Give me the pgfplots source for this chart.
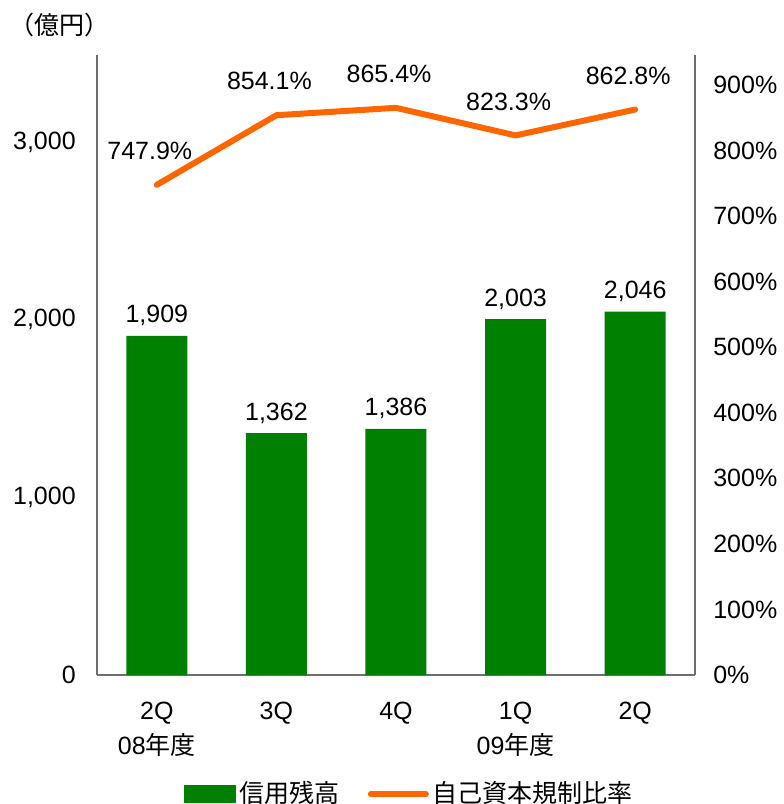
\documentclass[border=0pt]{standalone}
\usepackage{fontspec}
\setmainfont{Liberation Sans}
\newfontfamily\jp{Noto Sans CJK JP}
\usepackage{pgfplots}
\usepackage{pgfplotstable}
\pgfplotsset{compat=1.18}
\definecolor{barGreen}{RGB}{0,128,0}
\definecolor{lineOrange}{RGB}{255,102,0}
\definecolor{axGray}{RGB}{110,110,110}

% quarter, credit balance (100M yen), capital adequacy ratio (%)
\pgfplotstableread{
x credit ratio
0 1909 747.9
1 1362 854.1
2 1386 865.4
3 2003 823.3
4 2046 862.8
}\data

\begin{document}
\fontsize{12.5}{17.5}\selectfont
\begin{tikzpicture}
\path[use as bounding box] (-48.5pt,-64.5pt) rectangle (343pt,337.5pt);
\pgfplotsset{
  base/.style={
    scale only axis, width=299pt, height=310pt,
    xmin=-0.5, xmax=4.5,
    major tick length=0pt,
    /pgf/number format/assume math mode=true,
    axis line style={axGray, line width=0.6pt},
    clip=false,
  },
}
\begin{axis}[base,
  ymin=0, ymax=3490,
  axis x line*=bottom, axis y line*=left,
  ytick={0,1000,2000,3000},
  yticklabels={0,{1,000},{2,000},{3,000}},
  yticklabel style={anchor=east, xshift=-6.3pt},
  xtick={0,...,4},
  xticklabels={{2Q\\08{\jp 年度}},3Q,4Q,{1Q\\09{\jp 年度}},2Q},
  xticklabel style={align=center, anchor=north, yshift=-9pt},
  legend style={at={(axis description cs:0.524,-0.192)}, anchor=center,
    draw=none, legend columns=2,
    /tikz/every even column/.append style={column sep=12pt}},
]
\addplot[ybar, bar width=30.5pt, fill=barGreen, draw=none,
  legend image code/.code={\fill[barGreen] (0pt,-4.5pt) rectangle (26pt,4.5pt);},
  nodes near coords={\pgfmathprintnumber[fixed,precision=0]{\pgfplotspointmeta}},
  every node near coord/.append style={black, anchor=center, yshift=10pt}]
  table[x=x,y=credit]{\data};
\addlegendentry{\jp 信用残高}
\addlegendimage{legend image code/.code={\draw[lineOrange, line width=3pt, line cap=round] (0pt,0pt) -- (27.5pt,0pt);}}
\addlegendentry{\jp 自己資本規制比率}
\node at (rel axis cs:-0.062,1.048) {\jp （億円）};
\end{axis}
\begin{axis}[base,
  ymin=0, ymax=946,
  axis y line*=right, axis x line=none,
  ytick={0,100,...,900},
  yticklabel={\pgfmathprintnumber[fixed,precision=0]{\tick}\%},
  yticklabel style={anchor=west, xshift=4.8pt},
]
\addplot[lineOrange, line width=3pt, line cap=round, line join=round, mark=none,
  nodes near coords={\pgfmathprintnumber[fixed,precision=1,fixed zerofill]{\pgfplotspointmeta}\%},
  every node near coord/.append style={black, anchor=center, yshift=17pt, xshift=-3.5pt}]
  table[x=x,y=ratio]{\data};
\end{axis}
\end{tikzpicture}
\end{document}
